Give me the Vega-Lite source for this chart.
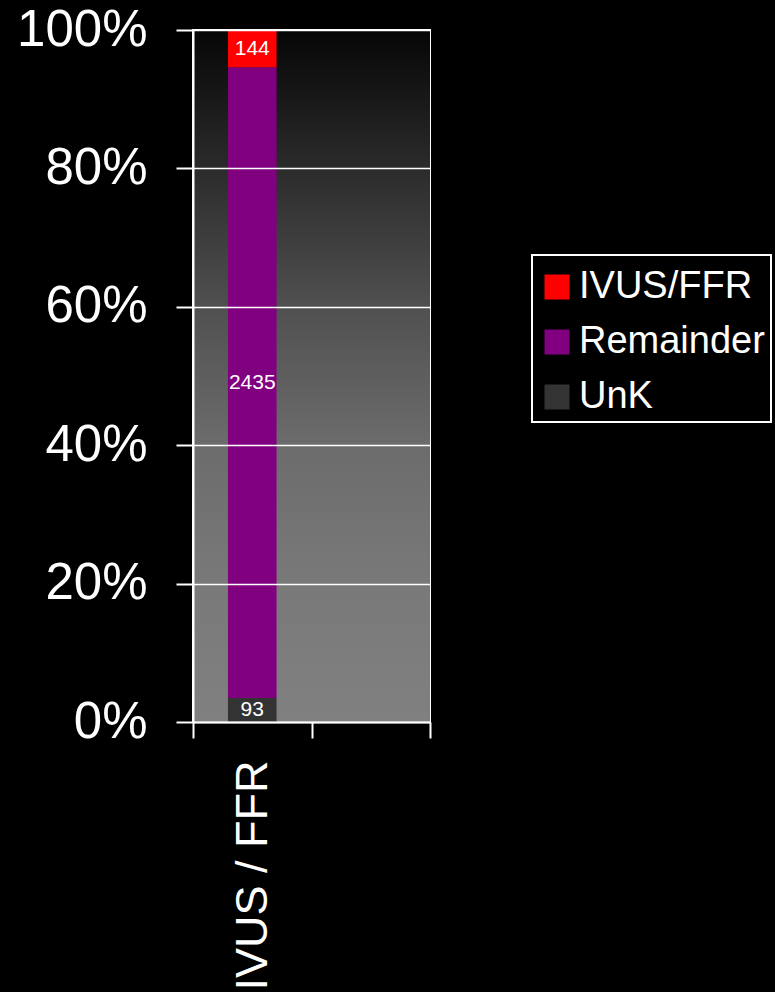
{
  "$schema": "https://vega.github.io/schema/vega-lite/v6.json",
  "width": 237,
  "height": 692,
  "autosize": {"type": "none"},
  "padding": {"left": 193, "top": 30, "right": 345, "bottom": 270},
  "background": "#000000",
  "view": {"stroke": "#ffffff", "strokeWidth": 2},
  "config": {
    "font": "Liberation Sans",
    "legend": {"strokeWidth": 2},
    "axis": {
      "domainColor": "#ffffff",
      "domainWidth": 2,
      "tickColor": "#ffffff",
      "tickWidth": 2,
      "gridColor": "#ffffff",
      "gridWidth": 1.5,
      "gridOpacity": 1,
      "labelColor": "#ffffff",
      "labelFont": "Liberation Sans",
      "title": null
    }
  },
  "layer": [
    {
      "data": {"values": [{"panel": "plot"}]},
      "mark": {
        "type": "rect",
        "zindex": 0,
        "color": {
          "gradient": "linear",
          "x1": 0, "y1": 0, "x2": 0, "y2": 1,
          "stops": [
            {"offset": 0, "color": "#060606"},
            {"offset": 0.2, "color": "#2b2b2b"},
            {"offset": 0.4, "color": "#505050"},
            {"offset": 0.6, "color": "#6c6c6c"},
            {"offset": 0.8, "color": "#797979"},
            {"offset": 1, "color": "#808080"}
          ]
        }
      },
      "encoding": {}
    },
    {
      "data": {
        "values": [
          {"group": "IVUS / FFR", "series": "UnK", "count": 93, "rank": 1},
          {"group": "IVUS / FFR", "series": "Remainder", "count": 2435, "rank": 2},
          {"group": "IVUS / FFR", "series": "IVUS/FFR", "count": 144, "rank": 3}
        ]
      },
      "transform": [
        {
          "stack": "count",
          "groupby": ["group"],
          "sort": [{"field": "rank", "order": "ascending"}],
          "offset": "normalize",
          "as": ["lo", "hi"]
        }
      ],
      "encoding": {
        "x": {
          "field": "group",
          "type": "nominal",
          "scale": {"domain": ["IVUS / FFR", " "], "paddingInner": 0, "paddingOuter": 0},
          "axis": {
            "title": null,
            "labelAngle": -90,
            "labelFontSize": 45,
            "labelPadding": 22,
            "labelLimit": 400,
            "tickSize": 16,
            "tickBand": "extent",
            "grid": false,
            "zindex": 1
          }
        }
      },
      "layer": [
        {
          "mark": {"type": "bar", "width": {"band": 0.41}, "zindex": 2},
          "encoding": {
            "y": {
              "field": "lo",
              "type": "quantitative",
              "scale": {"domain": [0, 1], "nice": false},
              "axis": {
                "title": null,
                "format": ".0%",
                "values": [0, 0.2, 0.4, 0.6, 0.8, 1],
                "labelFontSize": 51,
                "labelPadding": 29,
                "tickSize": 17,
                "grid": true,
                "zindex": 1
              }
            },
            "y2": {"field": "hi"},
            "color": {
              "field": "series",
              "type": "nominal",
              "scale": {
                "domain": ["IVUS/FFR", "Remainder", "UnK"],
                "range": ["#ff0000", "#800080", "#333333"]
              },
              "legend": {
                "title": " ",
                "titleFontSize": 1,
                "titlePadding": 6,
                "orient": "none",
                "legendX": 339,
                "legendY": 225,
                "padding": 6,
                "strokeColor": "#ffffff",
                "fillColor": "#000000",
                "symbolType": "square",
                "symbolSize": 625,
                "symbolStrokeWidth": 0,
                "labelColor": "#ffffff",
                "labelFont": "Liberation Sans",
                "labelFontSize": 38,
                "labelOffset": 3,
                "rowPadding": 17,
                "labelLimit": 400
              }
            }
          }
        },
        {
          "transform": [{"fold": ["lo", "hi"], "as": ["edge", "pos"]}],
          "mark": {"type": "text", "color": "#ffffff", "fontSize": 21, "baseline": "middle", "align": "center", "zindex": 3},
          "encoding": {
            "y": {"field": "pos", "aggregate": "mean", "type": "quantitative"},
            "detail": {"field": "series", "type": "nominal"},
            "text": {"field": "count", "aggregate": "max", "type": "quantitative"}
          }
        }
      ]
    }
  ]
}
